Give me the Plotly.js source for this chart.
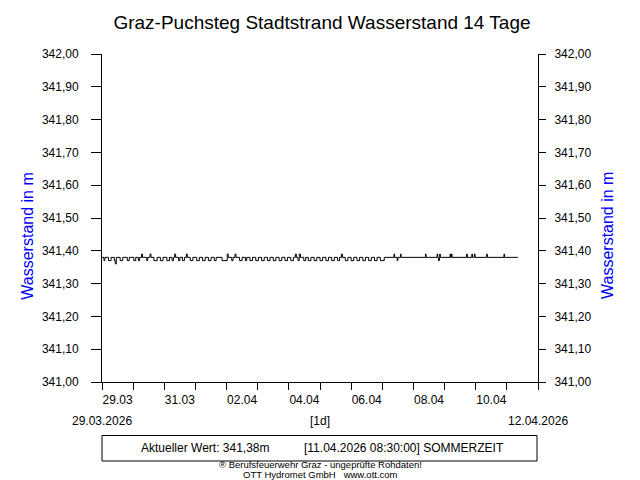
<!DOCTYPE html>
<html>
<head>
<meta charset="utf-8">
<script src="https://cdn.plot.ly/plotly-3.0.1.min.js"></script>
<style>html,body{margin:0;padding:0;background:#fff;}#chart{width:640px;height:480px;}</style>
</head>
<body>
<div id="chart"></div>
<script>
// ---- data (step changes of the water level) ----
var times = [
'2026-03-29 00:00','2026-03-29 01:30','2026-03-29 02:15','2026-03-29 05:00','2026-03-29 07:00',
'2026-03-29 09:30','2026-03-29 10:15','2026-03-29 11:00','2026-03-29 14:00','2026-03-29 16:00',
'2026-03-29 19:30','2026-03-29 21:00','2026-03-30 00:30','2026-03-30 02:00','2026-03-30 04:00',
'2026-03-30 05:00','2026-03-30 06:30','2026-03-30 07:15','2026-03-30 10:30','2026-03-30 11:15',
'2026-03-30 13:00','2026-03-30 13:45','2026-03-30 16:00','2026-03-30 18:30','2026-03-30 21:00',
'2026-03-30 23:00','2026-03-31 02:00','2026-03-31 04:00','2026-03-31 06:00','2026-03-31 07:00',
'2026-03-31 08:00','2026-03-31 08:45','2026-03-31 11:00','2026-03-31 12:00','2026-03-31 14:00',
'2026-03-31 15:30','2026-03-31 17:00','2026-03-31 17:45','2026-03-31 20:00','2026-03-31 22:00',
'2026-04-01 01:00','2026-04-01 03:00','2026-04-01 05:30','2026-04-01 07:30','2026-04-01 10:00',
'2026-04-01 12:00','2026-04-01 14:30','2026-04-01 16:00','2026-04-01 20:30','2026-04-02 00:30',
'2026-04-02 01:15','2026-04-02 04:00','2026-04-02 05:00','2026-04-02 06:30','2026-04-02 07:15',
'2026-04-02 10:00','2026-04-02 12:00','2026-04-02 14:30','2026-04-02 15:30','2026-04-02 18:00',
'2026-04-02 20:00','2026-04-02 22:30','2026-04-03 00:30','2026-04-03 03:00','2026-04-03 05:00',
'2026-04-03 07:30','2026-04-03 09:30','2026-04-03 12:00','2026-04-03 14:00','2026-04-03 16:30',
'2026-04-03 18:30','2026-04-03 21:00','2026-04-03 23:00','2026-04-04 01:30','2026-04-04 03:30',
'2026-04-04 05:00','2026-04-04 05:45','2026-04-04 07:00','2026-04-04 08:00','2026-04-04 09:00',
'2026-04-04 11:30','2026-04-04 13:00','2026-04-04 15:00','2026-04-04 17:00','2026-04-04 19:30',
'2026-04-04 21:30','2026-04-05 00:00','2026-04-05 02:00','2026-04-05 04:30','2026-04-05 06:30',
'2026-04-05 09:00','2026-04-05 11:00','2026-04-05 13:30','2026-04-05 15:00','2026-04-05 16:30',
'2026-04-05 17:15','2026-04-05 19:30','2026-04-05 21:30','2026-04-06 00:00','2026-04-06 02:00',
'2026-04-06 04:30','2026-04-06 06:30','2026-04-06 09:00','2026-04-06 11:00','2026-04-06 13:30',
'2026-04-06 15:30','2026-04-06 18:00','2026-04-06 20:00','2026-04-06 22:30','2026-04-07 01:30',
'2026-04-07 09:00','2026-04-07 09:30','2026-04-07 11:30','2026-04-07 12:00','2026-04-07 14:00',
'2026-04-07 14:30','2026-04-08 09:15','2026-04-08 09:45','2026-04-08 18:15','2026-04-08 18:45',
'2026-04-08 19:15','2026-04-08 20:00','2026-04-08 20:15','2026-04-08 20:45','2026-04-09 04:15',
'2026-04-09 04:45','2026-04-09 05:15','2026-04-09 05:45','2026-04-09 17:00','2026-04-09 17:30',
'2026-04-09 21:00','2026-04-09 21:30','2026-04-09 23:00','2026-04-09 23:30','2026-04-10 08:30',
'2026-04-10 09:00','2026-04-10 21:45','2026-04-10 22:15','2026-04-11 08:30'
];
var levels = [
341.38,341.37,341.38,341.37,341.38,
341.37,341.36,341.38,341.37,341.38,
341.37,341.38,341.37,341.38,341.37,
341.38,341.39,341.38,341.37,341.38,
341.39,341.38,341.37,341.38,341.37,
341.38,341.37,341.38,341.37,341.38,
341.39,341.38,341.37,341.38,341.37,
341.38,341.39,341.38,341.37,341.38,
341.37,341.38,341.37,341.38,341.37,
341.38,341.37,341.38,341.37,341.39,
341.38,341.37,341.38,341.39,341.38,
341.37,341.38,341.37,341.38,341.37,
341.38,341.37,341.38,341.37,341.38,
341.37,341.38,341.37,341.38,341.37,
341.38,341.37,341.38,341.37,341.38,
341.39,341.38,341.37,341.39,341.38,
341.37,341.38,341.37,341.38,341.37,
341.38,341.37,341.38,341.37,341.38,
341.37,341.38,341.37,341.38,341.39,
341.38,341.37,341.38,341.37,341.38,
341.37,341.38,341.37,341.38,341.37,
341.38,341.37,341.38,341.37,341.38,
341.39,341.38,341.37,341.38,341.39,
341.38,341.39,341.38,341.39,341.38,
341.37,341.38,341.39,341.38,341.39,
341.38,341.39,341.38,341.39,341.38,
341.39,341.38,341.39,341.38,341.39,
341.38,341.39,341.38,341.38
];
var xTickDates  = ['2026-03-29','2026-03-31','2026-04-02','2026-04-04','2026-04-06','2026-04-08','2026-04-10'];
var xTickLabels = ['29.03','31.03','02.04','04.04','06.04','08.04','10.04'];
var startLabel = '29.03.2026';
var endLabel = '12.04.2026';
var stepLabel = '[1d]';
var currentStamp = '[11.04.2026 08:30:00] SOMMERZEIT';
var titleText = 'Graz-Puchsteg Stadtstrand Wasserstand 14 Tage';
var yTitle = 'Wasserstand in m';
var footer1 = '® Berufsfeuerwehr Graz - ungeprüfte Rohdaten!';
var footer2 = 'OTT Hydromet GmbH &nbsp; www.ott.com';

// ---- layout geometry ----
var L = 102, R = 538, T = 54, B = 382;
function px(x){ return (x - L) / (R - L); }
function py(y){ return (B - y) / (B - T); }
var FONT = 'Liberation Sans, Arial, sans-serif';

var current = levels[levels.length - 1];
var currentText = 'Aktueller Wert: ' + current.toFixed(2).replace('.', ',') + 'm';
// labels sit in the middle of their day
var labelPos = xTickDates.map(function(d){ return d + ' 12:00'; });

var traces = [
  {x: times, y: levels, type: 'scatter', mode: 'lines', line: {shape: 'hv', color: '#000', width: 1},
   showlegend: false, hoverinfo: 'skip'},
  {x: [], y: [], type: 'scatter', mode: 'lines', yaxis: 'y2', showlegend: false, hoverinfo: 'skip'}
];

var yCommon = {
  range: [341, 342], tickmode: 'linear', tick0: 341, dtick: 0.1, tickformat: '.2f',
  showgrid: false, zeroline: false, showline: true, linecolor: '#000', linewidth: 1,
  ticks: 'outside', tickcolor: '#000', tickwidth: 1,
  tickfont: {family: FONT, size: 12, color: '#000'}
};

var layout = {
  width: 640, height: 480,
  margin: {l: L, r: 640 - R, t: T, b: 480 - B, pad: 0},
  paper_bgcolor: '#fff', plot_bgcolor: '#fff',
  separators: ',.',
  font: {family: FONT, size: 12, color: '#000'},
  title: {text: titleText, font: {family: FONT, size: 19, color: '#000'},
          x: 322 / 640, xref: 'container', xanchor: 'center',
          y: 1 - 22 / 480, yref: 'container', yanchor: 'middle'},
  xaxis: {
    type: 'date', range: ['2026-03-29 00:00', '2026-04-12 00:00'],
    tickmode: 'array', tickvals: labelPos, ticktext: xTickLabels,
    ticks: 'outside', ticklen: 7, tickcolor: 'rgba(0,0,0,0)', tickwidth: 1,
    minor: {tickmode: 'linear', tick0: '2026-03-29', dtick: 86400000, ticks: 'outside', ticklen: 7, tickcolor: '#000', showgrid: false},
    showgrid: false, zeroline: false, showline: true, linecolor: '#000', linewidth: 1,
    tickfont: {family: FONT, size: 12, color: '#000'}
  },
  yaxis: Object.assign({}, yCommon, {side: 'left', ticklen: 10, ticklabelstandoff: 10}),
  yaxis2: Object.assign({}, yCommon, {side: 'right', overlaying: 'y', ticklen: 7, ticklabelstandoff: 6}),
  shapes: [
    {type: 'rect', xref: 'paper', yref: 'paper', x0: px(102), x1: px(537), y0: py(435.5), y1: py(461),
     line: {color: '#000', width: 1}, fillcolor: 'rgba(0,0,0,0)'}
  ],
  annotations: [
    {text: yTitle, xref: 'paper', yref: 'paper', x: px(26.7), y: py(236), textangle: -90, showarrow: false,
     xanchor: 'center', yanchor: 'middle', font: {family: FONT, size: 16, color: '#0000ff'}},
    {text: yTitle, xref: 'paper', yref: 'paper', x: px(607), y: py(236), textangle: -90, showarrow: false,
     xanchor: 'center', yanchor: 'middle', font: {family: FONT, size: 16, color: '#0000ff'}},
    {text: startLabel, xref: 'paper', yref: 'paper', x: px(102), y: py(421), showarrow: false, xanchor: 'center', yanchor: 'middle'},
    {text: stepLabel, xref: 'paper', yref: 'paper', x: px(320), y: py(421), showarrow: false, xanchor: 'center', yanchor: 'middle'},
    {text: endLabel, xref: 'paper', yref: 'paper', x: px(538), y: py(421), showarrow: false, xanchor: 'center', yanchor: 'middle'},
    {text: currentText, xref: 'paper', yref: 'paper', x: px(139), y: py(448.5), showarrow: false, xanchor: 'left', yanchor: 'middle'},
    {text: currentStamp, xref: 'paper', yref: 'paper', x: px(302), y: py(448.5), showarrow: false, xanchor: 'left', yanchor: 'middle'},
    {text: footer1, xref: 'paper', yref: 'paper', x: px(320), y: py(465), showarrow: false, xanchor: 'center', yanchor: 'middle',
     font: {family: FONT, size: 9.5, color: '#000'}},
    {text: footer2, xref: 'paper', yref: 'paper', x: px(320), y: py(474), showarrow: false, xanchor: 'center', yanchor: 'middle',
     font: {family: FONT, size: 9.5, color: '#000'}}
  ]
};

Plotly.newPlot('chart', traces, layout, {staticPlot: true, displayModeBar: false});
</script>
</body>
</html>
